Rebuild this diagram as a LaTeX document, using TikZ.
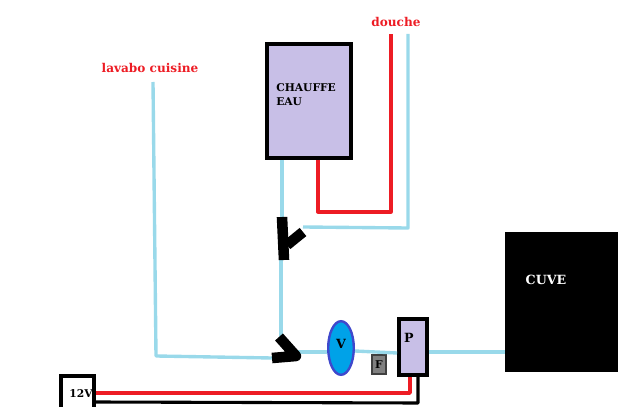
\documentclass[tikz,border=0pt]{standalone}
\usepackage{fontspec}
\setmainfont{DejaVu Serif}
\usetikzlibrary{arrows.meta, calc, positioning, shapes.geometric}
\definecolor{eaufroide}{HTML}{99D9EA}
\definecolor{eauchaude}{HTML}{ED1C24}
\definecolor{lilas}{HTML}{C8BFE7}
\definecolor{bleuvanne}{HTML}{00A2E8}
\definecolor{bordvanne}{HTML}{3F48CC}

\begin{document}
\begin{tikzpicture}[
            x=0.025cm,
            y=-0.025cm,
            lbl/.style={font=\bfseries\fontsize{7.6}{10}\selectfont, inner sep=0pt},
            lblrouge/.style={font=\bfseries\fontsize{8.6}{10}\selectfont, inner sep=0pt, text=eauchaude},
            froid/.style={draw=eaufroide, line width=2.4pt, line join=round},
            chaud/.style={draw=eauchaude, line width=2.6pt, line join=round},
            fil/.style={draw=black, line width=2.2pt, line join=round},
            raccord/.style={draw=black, line width=7.5pt, line join=round},
            boite/.style={draw=black, line width=2.8pt, fill=lilas, rectangle, inner sep=0pt}
        ]
        \useasboundingbox (0, 0) rectangle (640, 407);

        % Appliances
        \node [boite, minimum width=2.08cm, minimum height=2.84cm] (chauffe) at (309, 101) {};
        \node [draw, fill=black, rectangle, minimum width=2.8cm, minimum height=3.48cm, inner sep=0pt] (cuve) at (561, 301.5) {};
        \node [boite, minimum width=0.7cm, minimum height=1.4cm] (pompe) at (413, 347) {};
        \node [draw=bordvanne, fill=bleuvanne, line width=1.7pt, ellipse, minimum width=0.64cm, minimum height=1.34cm, inner sep=0pt] (vanne) at (341, 348) {};
        \node [draw=black!75, fill=black!50, line width=1.7pt, rectangle, minimum width=0.34cm, minimum height=0.46cm, inner sep=0pt] (filtre) at (379, 364.5) {};
        \node [draw=black, fill=white, line width=2.8pt, rectangle, minimum width=0.82cm, minimum height=0.95cm, inner sep=0pt] (batterie) at (77.5, 395) {};

        % Free ends and joints
        \coordinate (lavabo) at (153, 82);
        \coordinate (douche_c) at (391, 34);
        \coordinate (douche_f) at (408, 34);
        \coordinate (y_haut) at (282, 217);
        \coordinate (y_bas) at (284, 260);
        \coordinate (y_coude) at (287, 245);
        \coordinate (y_bras) at (303, 232);
        \coordinate (t_haut) at (279, 337);
        \coordinate (t_pointe) at (296, 356);
        \coordinate (t_bas) at (272, 358);

        % Cold water
        \draw[froid] ($(chauffe.south) + (-27, 0)$) to (y_haut);
        \draw[froid] (281, 260) to (281, 337);
        \draw[froid] (douche_f) to (408, 228) to (303, 227);
        \draw[froid] (lavabo) to (156, 356) to (t_bas);
        \draw[froid] (296, 352) to (vanne.west |- 0, 352);
        \draw[froid] (vanne.east |- 0, 351) to (pompe.west |- 0, 353);
        \draw[froid] (pompe.east |- 0, 352) to (cuve.west |- 0, 352);

        % Hot water
        \draw[chaud] ($(chauffe.south) + (9, 0)$) to ++(0, 52) to ++(73, 0) to (douche_c);

        % Wiring
        \draw[chaud] (batterie.east |- 0, 393) to (410, 393) to ($(pompe.south) + (-3, 0)$);
        \draw[fil] (batterie.east |- 0, 402) to (418, 403) to ($(pompe.south) + (5, 0)$);

        % Fittings
        \draw[raccord] (y_haut) to (y_bas);
        \draw[raccord] (y_coude) to (y_bras);
        \draw[raccord] (t_haut) to (t_pointe) to (t_bas);

        % Labels
        \node [lblrouge] (lavabo_l) at (150, 68) {lavabo cuisine};
        \node [lblrouge] (douche_l) at (396, 22) {douche};
        \node [lbl, align=left, anchor=north west] (chauffe_l) at (276, 83) {CHAUFFE\\EAU};
        \node [lbl, font=\bfseries\fontsize{9}{10}\selectfont, text=white] (cuve_l) at (546, 280) {CUVE};
        \node [lbl, font=\bfseries\fontsize{9}{10}\selectfont] (pompe_l) at (409, 338) {P};
        \node [lbl, font=\bfseries\fontsize{9}{10}\selectfont] (vanne_l) at (341, 344) {V};
        \node [lbl] (filtre_l) at (379, 365) {F};
        \node [lbl] (batterie_l) at (81, 394) {12V};
    \end{tikzpicture}
\end{document}
